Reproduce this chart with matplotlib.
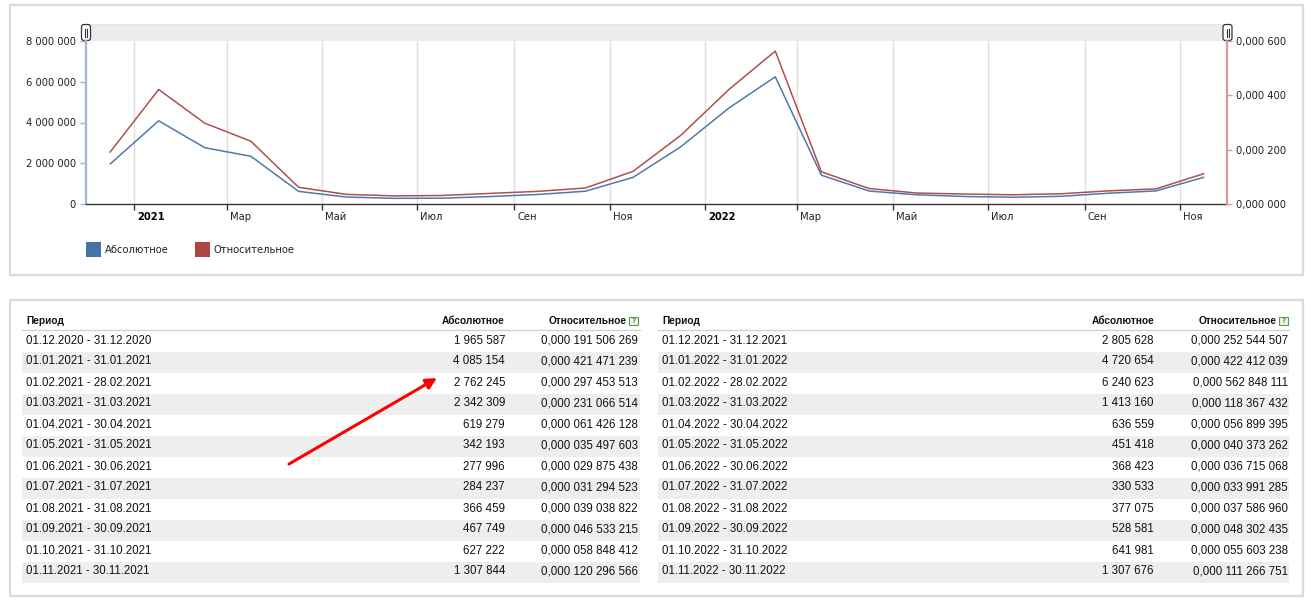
import datetime as dt
import matplotlib
matplotlib.use("Agg")
import matplotlib.pyplot as plt
import matplotlib.dates as mdates
from matplotlib.patches import Rectangle, FancyBboxPatch, FancyArrowPatch

# ---------------- data ----------------
periods = [
    "01.12.2020 - 31.12.2020", "01.01.2021 - 31.01.2021", "01.02.2021 - 28.02.2021",
    "01.03.2021 - 31.03.2021", "01.04.2021 - 30.04.2021", "01.05.2021 - 31.05.2021",
    "01.06.2021 - 30.06.2021", "01.07.2021 - 31.07.2021", "01.08.2021 - 31.08.2021",
    "01.09.2021 - 30.09.2021", "01.10.2021 - 31.10.2021", "01.11.2021 - 30.11.2021",
    "01.12.2021 - 31.12.2021", "01.01.2022 - 31.01.2022", "01.02.2022 - 28.02.2022",
    "01.03.2022 - 31.03.2022", "01.04.2022 - 30.04.2022", "01.05.2022 - 31.05.2022",
    "01.06.2022 - 30.06.2022", "01.07.2022 - 31.07.2022", "01.08.2022 - 31.08.2022",
    "01.09.2022 - 30.09.2022", "01.10.2022 - 31.10.2022", "01.11.2022 - 30.11.2022",
]
absolute = [1965587, 4085154, 2762245, 2342309, 619279, 342193, 277996, 284237,
            366459, 467749, 627222, 1307844, 2805628, 4720654, 6240623, 1413160,
            636559, 451418, 368423, 330533, 377075, 528581, 641981, 1307676]
relative = [0.000191506269, 0.000421471239, 0.000297453513, 0.000231066514,
            0.000061426128, 0.000035497603, 0.000029875438, 0.000031294523,
            0.000039038822, 0.000046533215, 0.000058848412, 0.000120296566,
            0.000252544507, 0.000422412039, 0.000562848111, 0.000118367432,
            0.000056899395, 0.000040373262, 0.000036715068, 0.000033991285,
            0.000037586960, 0.000048302435, 0.000055603238, 0.000111266751]
series_names = ["Абсолютное", "Относительное"]
col_headers = ["Период", "Абсолютное", "Относительное"]
xtick_months = [(2021, 1), (2021, 3), (2021, 5), (2021, 7), (2021, 9), (2021, 11),
                (2022, 1), (2022, 3), (2022, 5), (2022, 7), (2022, 9), (2022, 11)]
xtick_labels = ["2021", "Мар", "Май", "Июл", "Сен", "Ноя",
                "2022", "Мар", "Май", "Июл", "Сен", "Ноя"]
left_ticks = [0, 2000000, 4000000, 6000000, 8000000]
right_ticks = [0.0, 0.0002, 0.0004, 0.0006]

# ---------------- helpers ----------------
W, H = 1311, 605
BLUE = "#4572A7"
RED = "#AA4643"


def parse(d):
    dd, mm, yy = d.split(".")
    return dt.datetime(int(yy), int(mm), int(dd))


def mid_date(p):
    a, b = [parse(s.strip()) for s in p.split(" - ")]
    return a + (b - a) / 2 + dt.timedelta(hours=12)


def fmt_abs(v):
    return f"{v:,}".replace(",", " ")


def fmt_rel(v, decimals=12):
    s = f"{v:.{decimals}f}"
    ip, fp = s.split(".")
    groups = [fp[i:i + 3] for i in range(0, len(fp), 3)]
    return ip + "," + " ".join(groups)


xs = [mid_date(p) for p in periods]

fig = plt.figure(figsize=(W / 100, H / 100), dpi=100)
fig.patch.set_facecolor("white")

bg = fig.add_axes([0, 0, 1, 1])
bg.set_xlim(0, W)
bg.set_ylim(H, 0)
bg.axis("off")
bg.set_zorder(0)

# panels
for (x0, y0, x1, y1) in [(10, 5, 1303, 275), (10, 300, 1303, 596)]:
    bg.add_patch(Rectangle((x0, y0), x1 - x0, y1 - y0, facecolor="white",
                           edgecolor="#dadada", linewidth=1.6, zorder=1))

# scrollbar band
AX_L, AX_R, AX_T, AX_B = 86, 1227, 41, 204
bg.add_patch(Rectangle((AX_L, 24), AX_R - AX_L, AX_T - 24, facecolor="#ececec",
                       edgecolor="#e2e2e2", linewidth=0.6, zorder=2))
for hx in (81.5, 1223):
    bg.add_patch(FancyBboxPatch((hx, 24.5), 9, 16, boxstyle="round,pad=0,rounding_size=2.5",
                                facecolor="white", edgecolor="#333333", linewidth=0.9, zorder=3))
    bg.plot([hx + 3.6, hx + 3.6], [28.5, 36.5], color="#333333", lw=0.8, zorder=4)
    bg.plot([hx + 5.6, hx + 5.6], [28.5, 36.5], color="#333333", lw=0.8, zorder=4)

# ---------------- chart ----------------
ax = fig.add_axes([AX_L / W, 1 - AX_B / H, (AX_R - AX_L) / W, (AX_B - AX_T) / H])
ax.set_zorder(2)
ax2 = ax.twinx()

ax.plot(xs, absolute, color=BLUE, lw=1.1, alpha=0.95, zorder=3)
ax2.plot(xs, relative, color=RED, lw=1.1, alpha=0.95, zorder=3)

ax.set_xlim(dt.datetime(2020, 12, 1), dt.datetime(2022, 12, 1))
ax.set_ylim(0, 8000000)
ax2.set_ylim(0, 0.0006)

tick_dates = [dt.datetime(y, m, 1) for (y, m) in xtick_months]
ax.set_xticks(tick_dates)
ax.set_xticklabels([])
ax.grid(axis="x", color="#dedede", lw=1.0)
ax.grid(axis="y", visible=False)
ax.tick_params(axis="x", direction="out", length=4.3, width=1.0, color="#333333")

trans = ax.get_xaxis_transform()
for d, lab in zip(tick_dates, xtick_labels):
    bold = lab.isdigit()
    ax.annotate(lab, xy=(mdates.date2num(d), 0), xycoords=trans,
                xytext=(2.2, -9.5), textcoords="offset points",
                ha="left", va="center", fontsize=7.2,
                fontweight="bold" if bold else "normal",
                color="#000000" if bold else "#222222", family="DejaVu Sans")

ax.set_yticks(left_ticks)
ax.set_yticklabels([fmt_abs(v) for v in left_ticks], fontsize=7.2, color="#222222",
                   family="DejaVu Sans")
ax.tick_params(axis="y", direction="out", length=4.3, width=1.0, color="#9fb6d6", pad=3)
ax2.set_yticks(right_ticks)
ax2.set_yticklabels([fmt_rel(v, 6) for v in right_ticks], fontsize=7.2, color="#222222",
                    family="DejaVu Sans")
ax2.tick_params(axis="y", direction="out", length=3.5, width=1.0, color="#d79a9a", pad=3)

for a in (ax, ax2):
    a.spines["top"].set_visible(False)
ax.spines["right"].set_visible(False)
ax2.spines["left"].set_visible(False)
ax2.spines["bottom"].set_visible(False)
ax.spines["left"].set_color("#9fb6d6")
ax.spines["left"].set_linewidth(1.6)
ax2.spines["right"].set_color("#d79a9a")
ax2.spines["right"].set_linewidth(1.6)
ax.spines["bottom"].set_color("#333333")
ax.spines["bottom"].set_linewidth(1.0)

# legend
for (sx, name, col) in [(86, series_names[0], BLUE), (195, series_names[1], RED)]:
    bg.add_patch(Rectangle((sx, 242), 15, 15, facecolor=col, edgecolor="none", zorder=3))
    bg.text(sx + 19, 250, name, fontsize=7.2, va="center", ha="left",
            color="#222222", family="DejaVu Sans", zorder=3)

# ---------------- tables ----------------
TF = "Liberation Sans"
tables = [
    dict(x0=22, x1=640, per_x=26, abs_r=505, hdr_rel_r=627, rel_r=638, rows=range(0, 12)),
    dict(x0=658, x1=1289, per_x=662, abs_r=1154, hdr_rel_r=1277, rel_r=1288, rows=range(12, 24)),
]
for t in tables:
    hy = 321
    bg.text(t["per_x"], hy, col_headers[0], fontsize=7.3, fontweight="bold",
            family=TF, va="center", ha="left", color="#111111", zorder=3)
    bg.text(t["abs_r"], hy, col_headers[1], fontsize=7.3, fontweight="bold",
            family=TF, va="center", ha="right", color="#111111", zorder=3)
    bg.text(t["hdr_rel_r"], hy, col_headers[2], fontsize=7.3, fontweight="bold",
            family=TF, va="center", ha="right", color="#111111", zorder=3)
    # help icon
    ix = t["hdr_rel_r"] + 2
    bg.add_patch(Rectangle((ix, 316.5), 8.5, 8.5, facecolor="#eef5e8",
                           edgecolor="#5f9a4f", linewidth=0.8, zorder=3))
    bg.text(ix + 4.25, 321, "?", fontsize=5, color="#5f9a4f", ha="center",
            va="center", family="DejaVu Sans", fontweight="bold", zorder=4)
    bg.plot([t["x0"], t["x1"]], [330, 330], color="#cfcfcf", lw=0.9, zorder=3)
    for k, i in enumerate(t["rows"]):
        yc = 340.5 + 21 * k
        if k % 2 == 1:
            bg.add_patch(Rectangle((t["x0"], 330.5 + 21 * k), t["x1"] - t["x0"], 21,
                                   facecolor="#eeeeee", edgecolor="none", zorder=2))
        bg.text(t["per_x"], yc, periods[i], fontsize=8.3, family=TF,
                va="center", ha="left", color="#111111", zorder=3)
        bg.text(t["abs_r"], yc, fmt_abs(absolute[i]), fontsize=8.3, family=TF,
                va="center", ha="right", color="#111111", zorder=3)
        bg.text(t["rel_r"], yc, fmt_rel(relative[i]), fontsize=8.3, family=TF,
                va="center", ha="right", color="#111111", zorder=3)

# red annotation arrow
bg.add_patch(FancyArrowPatch((289, 464), (437, 378), arrowstyle="-|>",
                             mutation_scale=16, color="#ff0000", lw=2.2,
                             shrinkA=0, shrinkB=0, zorder=6))

fig.savefig("out.png", dpi=100, facecolor="white")
